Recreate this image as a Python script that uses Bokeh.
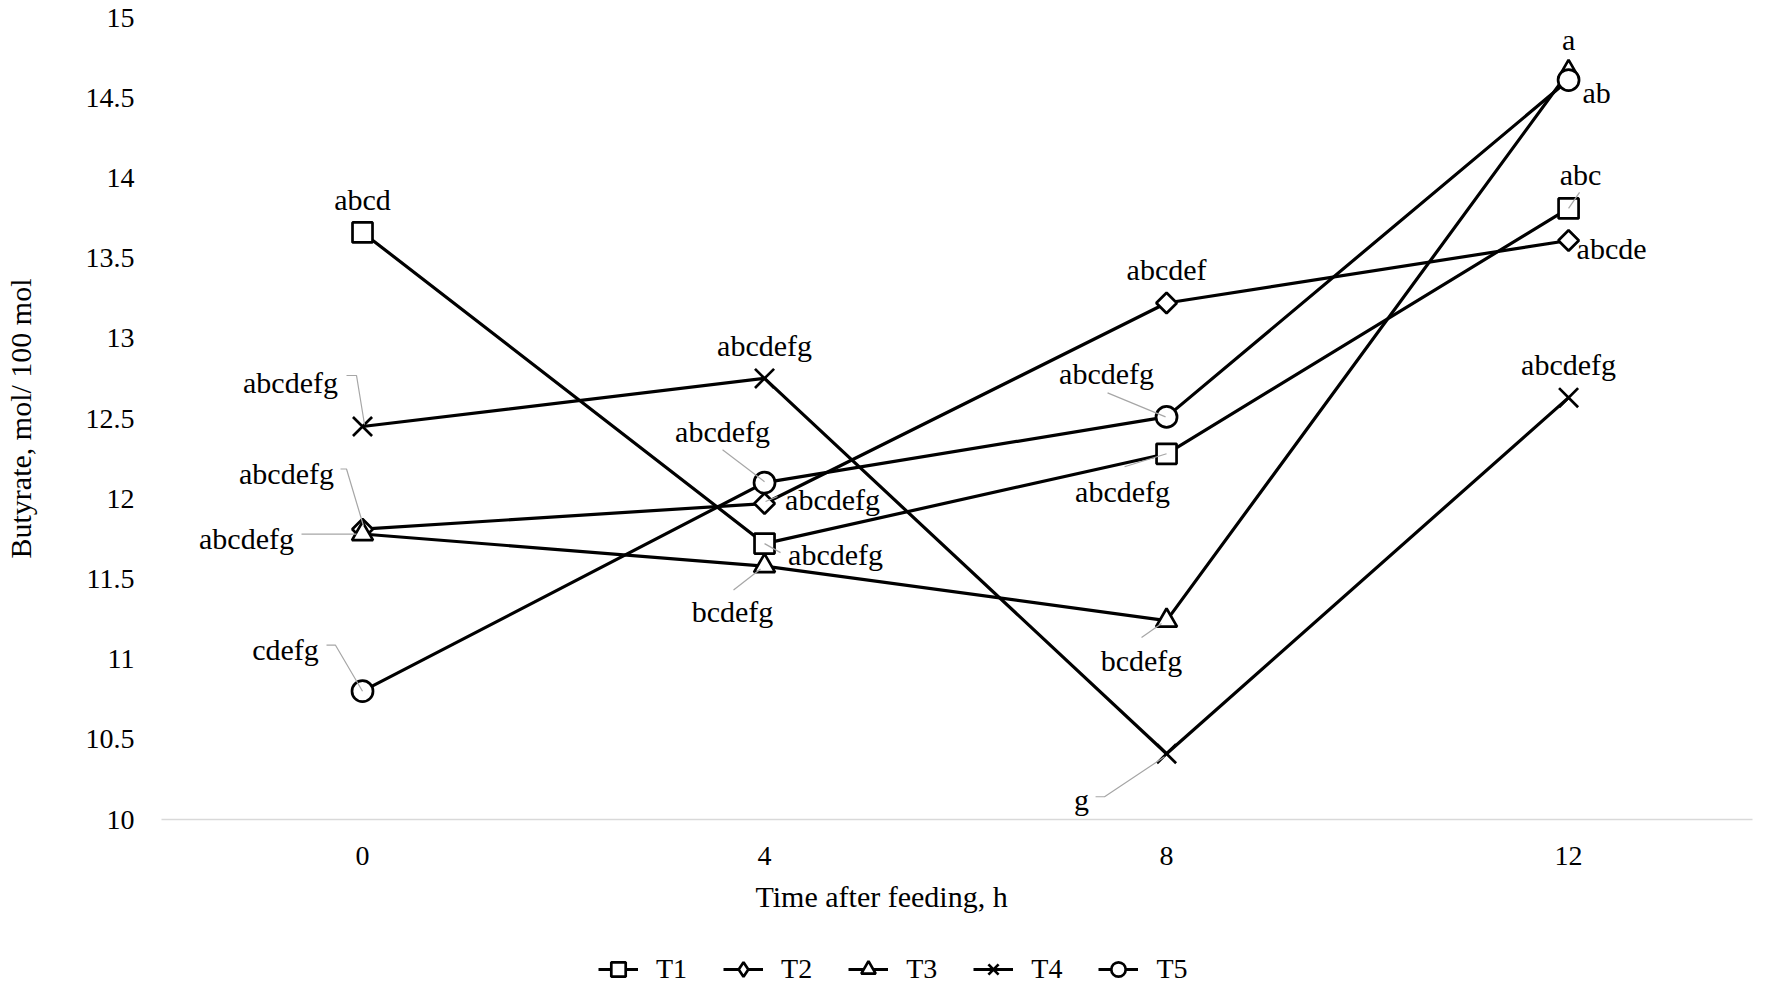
import numpy as np
from bokeh.plotting import figure
from bokeh.models import Range1d, FixedTicker, Legend, LegendItem, ColumnDataSource, Title
from bokeh.layouts import column
from bokeh.embed import file_html
from bokeh.resources import INLINE
from bokeh.core.properties import value

# ---------------- data ----------------
hours = [0, 4, 8, 12]
series_names = ["T1", "T2", "T3", "T4", "T5"]
t1 = [13.66, 11.72, 12.28, 13.81]
t2 = [11.81, 11.97, 13.22, 13.61]
t3 = [11.78, 11.58, 11.24, 14.66]
t4 = [12.45, 12.75, 10.41, 12.63]
t5 = [10.80, 12.10, 12.51, 14.61]
t1_letters = ["abcd", "abcdefg", "abcdefg", "abc"]
t2_letters = ["abcdefg", "abcdefg", "abcdef", "abcde"]
t3_letters = ["abcdefg", "bcdefg", "bcdefg", "a"]
t4_letters = ["abcdefg", "abcdefg", "g", "abcdefg"]
t5_letters = ["cdefg", "abcdefg", "abcdefg", "ab"]
x_ticks = [0, 4, 8, 12]
x_tick_labels = ["0", "4", "8", "12"]
y_ticks = [10, 10.5, 11, 11.5, 12, 12.5, 13, 13.5, 14, 14.5, 15]
y_tick_labels = ["10", "10.5", "11", "11.5", "12", "12.5", "13", "13.5", "14", "14.5", "15"]
x_title = "Time after feeding, h"
y_title = "Butyrate, mol/ 100 mol"

values = [t1, t2, t3, t4, t5]
letters = [t1_letters, t2_letters, t3_letters, t4_letters, t5_letters]

# ---------------- layout / style (pixels) ----------------
FW, FH = 1591, 802
X0, X1 = -2.0, 13.83
Y0, Y1 = 10.0, 15.0
PX = FW / (X1 - X0)
PY = FH / (Y1 - Y0)
FONT = "Liberation Serif"
LEFT, RIGHT, TOP, BOTTOM = 158, 15, 17, 114
TOTAL_W = LEFT + FW + RIGHT
MAIN_H = TOP + FH + BOTTOM
LEG_H = 987 - MAIN_H

label_offsets = [
    [(0, -33), (71, 11), (-44, 38), (12, -34)],
    [(-116, 9), (68, -4), (0, -34), (43, 8)],
    [(-76, -60), (-32, 45), (-25, 40), (0, -33)],
    [(-72, -44), (0, -33), (-85, 46), (0, -33)],
    [(-77, -42), (-42, -51), (-60, -43), (28, 12)],
]
leaders = [
    [None, [(16, 9), (0, 0)], [(-42, 13), (0, 0)], [(11, -16), (0, 0)]],
    [[(-61, 5), (-6, 5)], [(13, -7), (1, -2)], None, None],
    [[(-22, -65), (-16, -65), (1, -8)], [(-31, 24), (-4, 3)], [(-25, 17), (-5, 3)], None],
    [[(-16, -51), (-6, -51), (2, -2)], None, [(-71, 43), (-62, 43), (-2, 3)], None],
    [[(-36, -46), (-27, -46), (0, 0)], [(-42, -33), (0, -1)], [(-59, -24), (-1, 0)], None],
]
marker_specs = [
    dict(marker="square", size=20, angle=0.0),
    dict(marker="square", size=14.5, angle=np.pi / 4),
    dict(marker="triangle", size=21, angle=0.0),
    dict(marker="x", size=27, angle=0.0),
    dict(marker="circle", size=21, angle=0.0),
]
legend_markers = ["square", "diamond", "triangle", "x", "circle"]
LINE_W = 3.2
MARK_W = 2.7

p = figure(frame_width=FW, frame_height=FH, x_range=Range1d(X0, X1), y_range=Range1d(Y0, Y1),
           output_backend="svg", toolbar_location=None,
           min_border_left=LEFT, min_border_right=RIGHT, min_border_top=TOP,
           min_border_bottom=BOTTOM)
p.outline_line_color = None
p.xgrid.visible = False
p.ygrid.visible = False
p.background_fill_color = "white"

# axes
p.xaxis.ticker = FixedTicker(ticks=x_ticks)
p.xaxis.major_label_overrides = {t: l for t, l in zip(x_ticks, x_tick_labels)}
p.yaxis.ticker = FixedTicker(ticks=y_ticks)
p.yaxis.major_label_overrides = {t: l for t, l in zip(y_ticks, y_tick_labels)}
for ax in (p.xaxis, p.yaxis):
    ax.major_tick_line_color = None
    ax.minor_tick_line_color = None
    ax.major_label_text_font = FONT
    ax.major_label_text_font_size = "28px"
    ax.major_label_text_color = "black"
p.xaxis.axis_line_color = "#d9d9d9"
p.xaxis.axis_line_width = 1.5
p.yaxis.axis_line_color = None
p.xaxis.major_label_standoff = 21
p.yaxis.major_label_standoff = 21
p.yaxis.axis_label = y_title
p.yaxis.axis_label_standoff = 46
p.yaxis.axis_label_text_font = FONT
p.yaxis.axis_label_text_font_size = "30px"
p.yaxis.axis_label_text_font_style = "normal"
p.yaxis.axis_label_text_color = "black"

p.add_layout(Title(text=x_title, align="left", offset=594, standoff=20,
                   text_font=FONT, text_font_size="30px", text_font_style="normal",
                   text_color="black"), "below")

# series
for i, (name, vals) in enumerate(zip(series_names, values)):
    spec = marker_specs[i]
    p.line(hours, vals, line_color="black", line_width=LINE_W)
    p.scatter(hours, vals, marker=spec["marker"], size=spec["size"], angle=spec["angle"],
              fill_color="white", line_color="black", line_width=MARK_W)

# leader lines
lx, ly = [], []
for i, vals in enumerate(values):
    for j, h in enumerate(hours):
        pts = leaders[i][j]
        if pts is None:
            continue
        lx.append([h + dx / PX for dx, dy in pts])
        ly.append([vals[j] - dy / PY for dx, dy in pts])
p.multi_line(lx, ly, line_color="#a6a6a6", line_width=1.2)

# data labels
tx, ty, tt, ox, oy = [], [], [], [], []
for i, vals in enumerate(values):
    for j, h in enumerate(hours):
        tx.append(h)
        ty.append(vals[j])
        tt.append(letters[i][j])
        ox.append(label_offsets[i][j][0])
        oy.append(label_offsets[i][j][1])
src = ColumnDataSource(dict(x=tx, y=ty, text=tt, xo=ox, yo=oy))
p.text(x="x", y="y", text="text", x_offset="xo", y_offset="yo", source=src,
       text_font=value(FONT), text_font_size="30px", text_color="black",
       text_align="center", text_baseline="middle")

# ---------------- legend strip (separate plot under the chart) ----------------
lf = figure(width=TOTAL_W, height=LEG_H, x_range=Range1d(100, 101), y_range=Range1d(100, 101),
            output_backend="svg", toolbar_location=None,
            x_axis_location=None, y_axis_location=None,
            min_border_left=0, min_border_right=0, min_border_top=0, min_border_bottom=0)
lf.outline_line_color = None
lf.xgrid.visible = False
lf.ygrid.visible = False
items = []
for i, (name, vals) in enumerate(zip(series_names, values)):
    ln = lf.line(hours, vals, line_color="black", line_width=LINE_W)
    sc = lf.scatter(hours, vals, marker=legend_markers[i], size=14,
                    fill_color="white", line_color="black", line_width=MARK_W)
    items.append(LegendItem(label=name, renderers=[ln, sc]))
legend = Legend(items=items, orientation="horizontal", location=(437, 0),
                glyph_width=40, glyph_height=36, label_standoff=18, spacing=36,
                padding=0, margin=0, border_line_color=None, background_fill_alpha=0,
                label_text_font=FONT, label_text_font_size="28px", label_text_color="black")
lf.add_layout(legend)

layout = column(p, lf, spacing=0)
open("out.html", "w").write(file_html(layout, INLINE))
